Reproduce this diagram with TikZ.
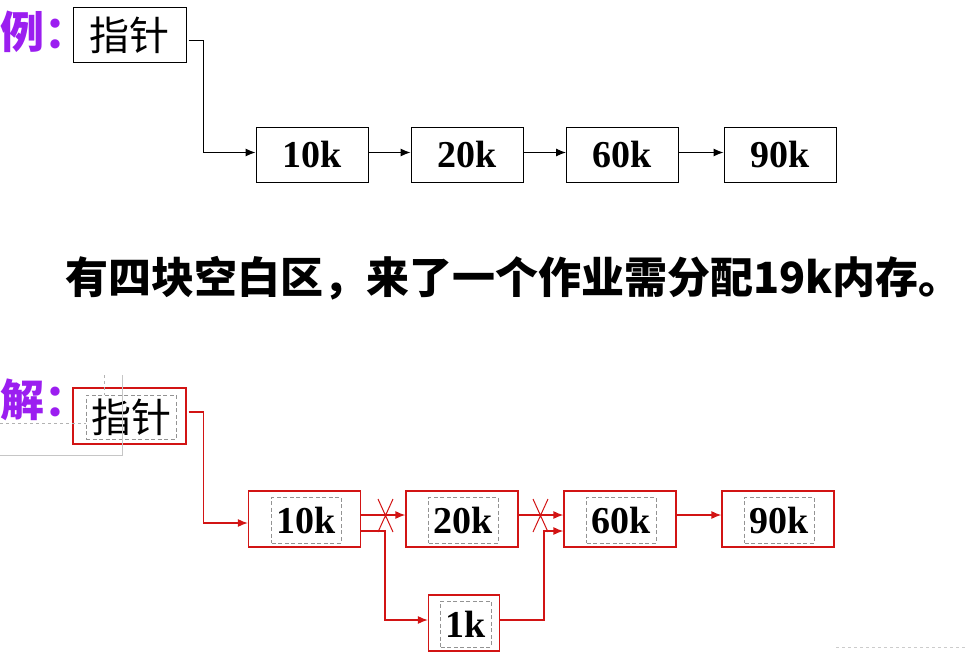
\documentclass[tikz,border=0pt]{standalone}
\usepackage{fontspec}
\setmainfont{Liberation Serif}
\newfontfamily\cjk{Noto Sans CJK SC}
\usetikzlibrary{arrows.meta,positioning}
\definecolor{tagpurple}{RGB}{155,30,240}
\definecolor{linkred}{RGB}{210,20,20}

\begin{document}
\begin{tikzpicture}[x=1pt, y=-1pt,
  box/.style = {draw, line width=1pt, minimum width=112pt, minimum height=55pt, inner sep=0pt},
  rbox/.style = {box, draw=linkred, line width=1.2pt, minimum height=56pt},
  tag/.style = {draw=gray!85, dash pattern=on 4pt off 2.5pt, line width=0.9pt, minimum height=46pt, inner xsep=5pt, inner ysep=0pt},
  num/.style = {font=\bfseries\fontsize{38}{40}\selectfont},
  zh/.style = {font=\cjk\fontsize{40}{42}\selectfont},
  hd/.style = {anchor=west, inner sep=0pt, text=tagpurple, font=\cjk\bfseries\fontsize{44}{46}\selectfont},
  link/.style = {line width=1pt, -{Latex[length=10pt,width=8pt]}},
  rlink/.style = {link, draw=linkred, line width=1.3pt},
  cross/.style = {draw=linkred, line width=1pt}]

\useasboundingbox (0,0) rectangle (967,653);

% example
\node[hd] (ex) at (0,32) {例：};
\node[box, zh, minimum width=113pt] (ptrA) at (129.5,35) {指针};
\node[box, num] (a10) at (312,154.5) {10k};
\node[box, num] (a20) at (467,154.5) {20k};
\node[box, num] (a60) at (622.5,154.5) {60k};
\node[box, num] (a90) at (780,154.5) {90k};

\draw[link] ([xshift=2pt,yshift=-5pt]ptrA.east) -- ++(15,0) |- ([yshift=2pt]a10.west);
\draw[link] ([yshift=2pt]a10.east) -- ([yshift=2pt]a20.west);
\draw[link] ([yshift=2pt]a20.east) -- ([yshift=2pt]a60.west);
\draw[link] ([yshift=2pt]a60.east) -- ([yshift=2pt]a90.west);

% task
\node[anchor=west, inner sep=0pt, font=\cjk\bfseries\fontsize{43}{46}\selectfont] (task) at (65,278) {有四块空白区，来了一个作业需分配19k内存。};

% solution
\node[hd] (sol) at (0,400) {解：};
\node[rbox, minimum width=113pt] (ptrB) at (129.5,416) {};
\node[tag, zh, minimum width=90pt, minimum height=44pt] (ptrBt) at (131,417) {指针};
\node[rbox] (b10) at (304.5,519) {};
\node[tag, num] (b10t) at (306.5,520) {10k};
\node[rbox] (b20) at (462,519) {};
\node[tag, num] (b20t) at (463.5,520) {20k};
\node[rbox] (b60) at (620,519) {};
\node[tag, num] (b60t) at (621.5,520) {60k};
\node[rbox] (b90) at (778,519) {};
\node[tag, num] (b90t) at (779.5,520) {90k};
\node[rbox, minimum width=71pt] (b1) at (464,623) {};
\node[tag, num] (b1t) at (466,624) {1k};

\draw[rlink] ([xshift=2pt,yshift=4pt]ptrB.east) -- ++(15,0) |- ([yshift=-4pt]b10.west);
\draw[rlink] ([yshift=4pt]b10.east) -- ([yshift=4pt]b20.west);
\draw[rlink] ([yshift=-12pt]b10.east) -- ++(24,0) |- ([yshift=3pt]b1.west);
\draw[rlink] ([yshift=4pt]b20.east) -- ([yshift=4pt]b60.west);
\draw[rlink] ([yshift=3pt]b1.east) -- ++(44,0) |- ([yshift=-12pt]b60.west);
\draw[rlink] ([yshift=4pt]b60.east) -- ([yshift=4pt]b90.west);

% crossed out
\coordinate (c1) at (385.5,515.5);
\coordinate (c2) at (540.5,515.5);
\draw[cross] ([shift={(-7.5,-16.5)}]c1) -- ([shift={(7.5,16.5)}]c1) ([shift={(7.5,-16.5)}]c1) -- ([shift={(-7.5,16.5)}]c1);
\draw[cross] ([shift={(-7.5,-16.5)}]c2) -- ([shift={(7.5,16.5)}]c2) ([shift={(7.5,-16.5)}]c2) -- ([shift={(-7.5,16.5)}]c2);

% guides
\draw[gray!45, line width=0.8pt] (122,375) -- (122,455) -- (0,455);
\draw[gray!60, dashed, line width=0.8pt] (0,423) -- (86,423) (104,375) -- (104,395);
\draw[gray!40, dashed, line width=0.8pt] (836,647) -- (967,647);

\end{tikzpicture}
\end{document}
